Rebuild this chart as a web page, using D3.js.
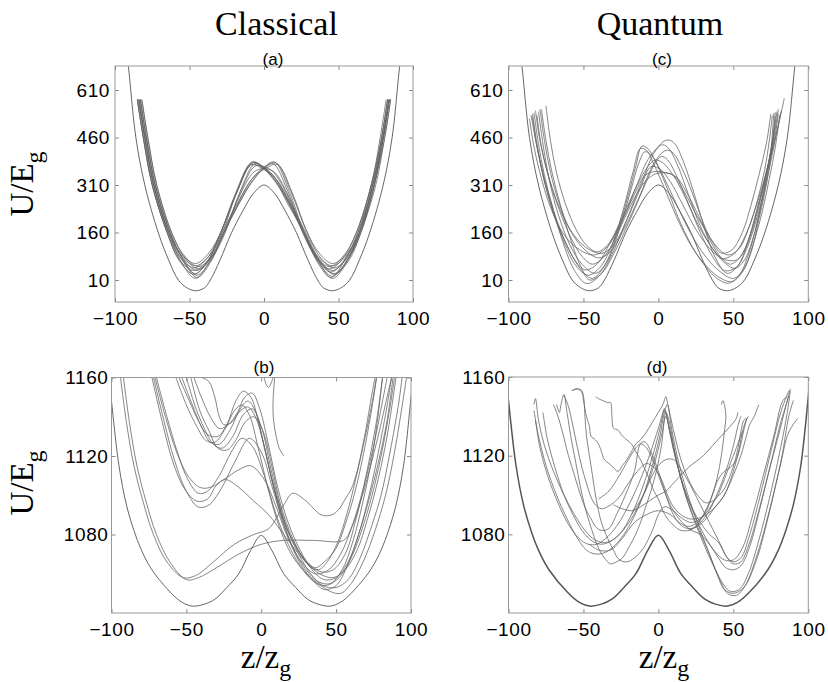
<!DOCTYPE html>
<html><head><meta charset="utf-8">
<script src="https://cdn.jsdelivr.net/npm/d3@7"></script>
<style>body{margin:0;background:#fff}</style>
</head><body>
<svg id="chart" width="828" height="682"></svg>
<script>
const zTicks=[-100,-50,0,50,100];
const uTicksLow=[10,160,310,460,610];
const uTicksHigh=[1080,1120,1160];
const zDomain=[-100,100];
const uDomainLow=[-59.5,685.8];
const uDomainHigh=[1040,1160];
const columnTitles=["Classical","Quantum"];
const panelLabels=["(a)","(b)","(c)","(d)"];

const baseLow=[[-93,760],[-91,684],[-86,460],[-80,310],[-71,160],[-64,73],[-57.5,10],[-52,-14],[-46,-24],[-40,-15],[-36,10],[-29.5,73],[-21.7,160],[-13.9,231],[-7,284],[0,310],[7,284],[13.9,231],[21.7,160],[29.5,73],[36,10],[40,-15],[46,-24],[52,-14],[57.5,10],[64,73],[71,160],[80,310],[86,460],[91,684],[93,760]];

const curvesA=[
[[-84,580],[-80,460],[-74,310],[-64,160],[-56,90],[-46,55],[-37,85],[-28,160],[-18,290],[-8,383],[0,365],[8,320],[16,250],[27,160],[36,70],[46,22],[56,75],[64,160],[73,310],[80,460],[84,580]],
[[-83,580],[-79,460],[-73,310],[-63,160],[-55,80],[-45,25],[-36,70],[-27,160],[-17,250],[-8,320],[0,365],[7,383],[17,290],[27,160],[36,85],[46,55],[56,90],[64,160],[74,310],[80,460],[84,580]],
[[-85,580],[-81,460],[-75,310],[-65,160],[-57,75],[-47,40],[-38,70],[-29,160],[-19,280],[-9,372],[-2,368],[6,340],[15,270],[26,160],[35,80],[45,35],[55,80],[63,160],[72,310],[79,460],[83,580]],
[[-82,580],[-78,460],[-72,310],[-62,160],[-54,85],[-44,45],[-35,80],[-26,160],[-16,290],[-6,378],[0,366],[8,330],[17,260],[28,160],[37,75],[47,30],[57,80],[65,160],[74,310],[81,460],[85,580]],
[[-84,580],[-80,460],[-74,310],[-64,160],[-56,80],[-46,30],[-37,75],[-28,160],[-17,260],[-8,330],[0,366],[6,378],[16,290],[26,160],[35,80],[44,45],[54,85],[62,160],[72,310],[78,460],[82,580]],
[[-83,580],[-79,460],[-73,310],[-63,160],[-55,80],[-45,18],[-36,65],[-27,160],[-17,270],[-7,350],[0,362],[7,350],[17,270],[27,160],[36,65],[45,18],[55,80],[63,160],[73,310],[79,460],[83,580]],
[[-84,580],[-80,460],[-74,310],[-64,160],[-56,95],[-46,62],[-37,95],[-28,170],[-18,290],[-8,380],[0,362],[9,315],[18,240],[28,150],[37,65],[46,15],[56,70],[64,160],[73,310],[80,460],[84,580]],
[[-84,580],[-80,460],[-74,310],[-64,160],[-56,70],[-46,15],[-37,65],[-28,150],[-18,240],[-9,315],[0,362],[8,380],[18,290],[28,170],[37,95],[46,62],[56,95],[64,160],[74,310],[80,460],[84,580]],
[[-85,580],[-81,460],[-75,310],[-65,160],[-57,85],[-47,48],[-38,80],[-29,160],[-19,285],[-9,375],[-1,362],[7,335],[16,265],[27,160],[36,78],[46,40],[56,82],[64,160],[73,310],[80,460],[84,580]],
[[-83,580],[-79,460],[-73,310],[-63,160],[-55,82],[-45,40],[-36,78],[-27,160],[-16,265],[-7,335],[1,362],[9,375],[19,285],[29,160],[38,80],[47,48],[57,85],[65,160],[74,310],[80,460],[84,580]],
[[-82,580],[-78,460],[-72,310],[-62,160],[-54,90],[-44,52],[-35,85],[-26,165],[-16,285],[-6,370],[0,368],[6,352],[15,285],[26,165],[35,85],[44,52],[54,90],[62,160],[72,310],[79,460],[83,580]],
[[-85,580],[-81,460],[-75,310],[-65,160],[-57,72],[-47,28],[-38,68],[-29,160],[-18,290],[-7,382],[0,360],[8,318],[17,250],[27,160],[37,72],[47,28],[57,72],[65,160],[75,310],[81,460],[85,580]]
];

const curvesC=[
[[-85,531],[-81,430],[-76,320],[-69,210],[-60,110],[-52,45],[-44,15],[-36,55],[-28,150],[-20,280],[-15,370],[-11,433],[-7,425],[-2,385],[5,310],[13,210],[22,120],[31,55],[40,12],[47,0],[54,25],[60,90],[66,190],[71,300],[75,420],[77,537]],
[[-83,539],[-80,440],[-76,340],[-70,230],[-63,120],[-56,40],[-48,-1],[-40,20],[-31,90],[-22,190],[-12,310],[-3,410],[3,446],[7,452],[11,440],[17,380],[24,280],[31,170],[38,80],[46,31],[53,55],[59,120],[65,220],[71,330],[76,440],[79,542]],
[[-80,542],[-77,440],[-73,330],[-67,220],[-59,120],[-51,60],[-42,31],[-34,70],[-26,170],[-18,300],[-13,380],[-9,415],[-4,400],[2,350],[10,270],[19,180],[29,100],[39,45],[50,15],[57,45],[63,120],[69,220],[74,330],[78,430],[81,531]],
[[-75,560],[-72,450],[-68,350],[-62,250],[-55,170],[-48,120],[-41,99],[-34,120],[-25,190],[-16,290],[-7,390],[0,430],[3,437],[7,425],[13,370],[20,280],[28,180],[36,110],[43,78],[51,95],[58,150],[65,240],[72,350],[78,460],[82,540],[84,584]],
[[-84,525],[-81,430],[-76,330],[-70,230],[-63,140],[-56,75],[-49,42],[-41,60],[-32,130],[-22,230],[-12,330],[-5,380],[-2,389],[3,380],[10,340],[18,270],[27,180],[36,110],[44,65],[51,47],[57,70],[63,140],[68,240],[72,340],[76,450],[78,540]],
[[-82,545],[-79,450],[-74,350],[-67,250],[-59,170],[-49,115],[-38,94],[-30,120],[-21,200],[-12,300],[-5,368],[1,360],[8,320],[16,250],[25,170],[34,110],[42,78],[45,73],[52,73],[58,110],[64,190],[69,280],[74,380],[78,470],[80,535]],
[[-86,520],[-83,430],[-78,330],[-72,240],[-64,160],[-54,110],[-43,89],[-34,115],[-25,190],[-16,280],[-9,340],[-3,352],[4,350],[10,340],[17,290],[26,210],[35,140],[42,100],[47,89],[54,110],[60,170],[66,260],[71,360],[74,450],[76,530]],
[[-78,548],[-75,450],[-71,350],[-65,240],[-58,130],[-52,55],[-46,10],[-38,30],[-29,100],[-19,200],[-9,310],[-2,380],[2,400],[6,390],[12,340],[20,250],[28,160],[36,85],[44,40],[52,50],[59,110],[66,210],[72,320],[77,430],[80,500],[82,545]],
[[-81,530],[-78,430],[-73,330],[-66,230],[-58,140],[-51,85],[-44,60],[-36,85],[-27,160],[-18,250],[-9,320],[-2,345],[5,348],[12,335],[19,285],[27,210],[35,130],[42,80],[48,60],[55,85],[61,150],[67,250],[72,350],[77,460],[80,550]],
[[-84,535],[-81,440],[-77,340],[-71,235],[-63,130],[-55,55],[-47,25],[-39,50],[-31,120],[-23,240],[-17,350],[-12,425],[-8,420],[-3,375],[4,300],[12,210],[21,125],[30,65],[40,20],[49,5],[56,35],[62,100],[67,200],[72,310],[76,430],[78,528]],
[[-79,550],[-76,450],[-72,350],[-66,250],[-58,160],[-49,105],[-40,80],[-32,100],[-23,170],[-13,270],[-4,370],[2,410],[6,420],[10,410],[16,360],[23,280],[30,190],[36,130],[42,95],[49,105],[56,160],[62,250],[67,340],[72,440],[75,535]]
];

const baseHigh=[[-101,1156],[-100,1148],[-95,1115],[-90,1095],[-85,1082],[-80,1072],[-73,1062],[-60,1050],[-53,1045.5],[-46,1043.5],[-38,1044.5],[-31,1047],[-23,1053],[-15,1060],[-7,1072],[0,1079.5],[7,1072],[15,1060],[23,1053],[31,1047],[38,1044.5],[46,1043.5],[53,1045.5],[60,1050],[73,1062],[80,1072],[85,1082],[90,1095],[95,1115],[100,1150],[101,1158]];

const curvesB=[
[[-94,1160],[-90,1137],[-85,1115],[-79,1097],[-72,1080],[-63,1066],[-52,1058],[-44,1059],[-32,1066],[-18,1075],[-5,1080],[5,1083],[15,1095],[21,1101],[30,1097],[40,1090],[47,1090],[52,1093],[56,1098],[60,1103],[64,1112],[68,1125],[73,1143],[77,1160]],
[[-92,1160],[-88,1137],[-83,1115],[-77,1097],[-70,1080],[-61,1066],[-50,1057],[-42,1058],[-30,1063],[-15,1070],[0,1075],[15,1077],[35,1077],[55,1077],[60,1083],[66,1096],[72,1112],[78,1130],[84,1150],[87,1160]],
[[-70,1160],[-63,1140],[-56,1122],[-49,1108],[-42,1101],[-36,1102],[-28,1110],[-20,1122],[-13,1129],[-6,1125],[2,1110],[10,1090],[18,1075],[26,1064],[35,1056],[43,1054],[52,1058],[60,1068],[67,1082],[74,1100],[80,1120],[86,1145],[89,1160]],
[[-72,1160],[-65,1138],[-58,1118],[-50,1102],[-42,1094],[-35,1095],[-27,1103],[-17,1118],[-8,1129],[0,1122],[7,1105],[15,1085],[24,1068],[33,1058],[42,1052],[50,1054],[58,1065],[65,1080],[72,1098],[78,1116],[84,1138],[88,1160]],
[[-73,1160],[-66,1137],[-59,1117],[-51,1103],[-43,1097],[-36,1098],[-30,1105],[-24,1108],[-15,1104],[-5,1097],[5,1090],[15,1080],[24,1071],[30,1066],[36,1063],[42,1066],[50,1073],[56,1085],[62,1100],[68,1120],[74,1145],[77,1160]],
[[-71,1160],[-64,1140],[-57,1123],[-49,1110],[-41,1104],[-34,1104],[-25,1108],[-15,1113],[-7,1115],[2,1108],[10,1094],[18,1078],[27,1066],[36,1060],[45,1062],[53,1070],[61,1085],[68,1103],[75,1125],[81,1148],[84,1160]],
[[-55,1160],[-48,1148],[-42,1138],[-36,1131],[-29,1130],[-23,1136],[-17,1148],[-12,1153],[-7,1150],[-2,1138],[4,1118],[10,1100],[17,1083],[25,1070],[33,1060],[41,1054],[50,1053],[58,1057],[66,1068],[74,1085],[80,1100],[86,1122],[92,1148],[94,1160]],
[[-53,1160],[-46,1146],[-40,1135],[-34,1127],[-28,1126],[-21,1133],[-14,1144],[-9,1148],[-4,1143],[1,1128],[7,1108],[14,1088],[22,1072],[30,1062],[38,1056],[46,1055],[54,1062],[61,1076],[68,1097],[75,1124],[81,1160]],
[[-50,1160],[-44,1145],[-38,1134],[-32,1126],[-26,1124],[-19,1130],[-12,1141],[-6,1144],[0,1135],[6,1115],[12,1096],[19,1080],[26,1070],[32,1064],[38,1062],[44,1066],[51,1076],[57,1090],[63,1108],[69,1130],[74,1152],[76,1160]],
[[-57,1160],[-50,1146],[-43,1135],[-37,1128],[-31,1127],[-24,1134],[-18,1143],[-13,1146],[-8,1141],[-2,1124],[5,1102],[12,1084],[20,1070],[29,1061],[38,1055],[46,1051],[53,1050],[60,1055],[68,1066],[76,1082],[83,1100],[89,1122],[95,1150],[97,1160]],
[[-47,1160],[-41,1143],[-35,1133],[-29,1124],[-23,1123],[-17,1128],[-11,1137],[-5,1140],[1,1133],[7,1115],[13,1095],[21,1078],[30,1066],[39,1060],[48,1058],[56,1062],[64,1072],[71,1088],[78,1108],[84,1130],[90,1160]],
[[-40,1160],[-35,1158],[-31,1150],[-28,1140],[-25,1136],[-20,1137],[-14,1143],[-9,1145],[-4,1140],[2,1125],[8,1105],[15,1087],[23,1074],[32,1065],[40,1061],[48,1062],[56,1070],[63,1087],[70,1110],[77,1138],[81,1160]],
[[-45,1160],[-40,1150],[-34,1140],[-28,1134],[-22,1136],[-16,1142],[-11,1150],[-6,1152],[-1,1144],[5,1125],[11,1104],[18,1086],[26,1072],[34,1062],[42,1057],[50,1058],[58,1066],[65,1080],[72,1100],[79,1125],[85,1150],[87,1160]],
[[2,1160],[3.5,1156],[5,1155],[6.5,1157],[8,1160]],
[[9,1160],[8,1150],[8,1140],[10,1130],[12,1124],[15,1120]]
];

const curvesD=[
[[-83,1146],[-82,1149],[-80,1138],[-76,1125],[-70,1112],[-63,1100],[-56,1090],[-49,1082],[-42,1077],[-34,1076],[-26,1080],[-18,1090],[-10,1105],[-3,1122],[2,1137],[4,1144],[7,1135],[12,1118],[18,1100],[25,1085],[32,1072],[38,1062],[43,1055],[48,1051],[54,1052],[60,1060],[67,1077],[74,1098],[81,1122],[86,1142],[88,1153]],
[[-83,1143],[-80,1130],[-75,1115],[-68,1100],[-61,1088],[-54,1078],[-48,1072],[-42,1070],[-35,1071],[-27,1076],[-19,1085],[-11,1098],[-4,1115],[1,1130],[4,1142],[6,1146],[9,1133],[14,1115],[21,1097],[28,1082],[35,1068],[41,1057],[46,1050],[52,1049],[58,1054],[66,1070],[74,1092],[82,1118],[87,1140],[90,1148]],
[[-77,1142],[-74,1128],[-69,1114],[-63,1100],[-57,1090],[-51,1082],[-45,1077],[-39,1075],[-33,1076],[-26,1080],[-18,1088],[-10,1100],[-3,1115],[2,1130],[5,1140],[8,1130],[13,1114],[19,1098],[26,1084],[33,1072],[39,1060],[44,1052],[50,1050],[57,1053],[65,1066],[73,1088],[81,1114],[87,1132],[93,1139]],
[[-82,1138],[-79,1124],[-74,1110],[-67,1096],[-60,1085],[-53,1078],[-47,1075],[-41,1075],[-35,1078],[-28,1084],[-21,1093],[-13,1106],[-6,1120],[0,1134],[4,1143],[7,1135],[11,1120],[17,1104],[24,1090],[31,1079],[38,1071],[44,1067],[50,1067],[56,1073],[63,1090],[70,1110],[77,1130],[83,1148],[86,1150]],
[[-68,1146],[-66,1142],[-65,1146],[-63,1151],[-61,1142],[-58,1128],[-55,1116],[-52,1104],[-49,1094],[-46,1086],[-43,1079],[-40,1073],[-36,1068],[-32,1065],[-28,1066],[-24,1068],[-20,1073],[-14,1082],[-8,1095],[-2,1110],[2,1125],[5,1142],[7,1138],[11,1122],[16,1106],[22,1094],[28,1086],[34,1080],[40,1076],[46,1068],[50,1066],[55,1068],[61,1080],[68,1100],[75,1122],[82,1143],[87,1153]],
[[-58,1153],[-55,1154],[-52,1153],[-50,1150],[-49,1140],[-48,1130],[-46,1120],[-44,1110],[-42,1100],[-40,1092],[-38,1086],[-35,1080],[-30,1072],[-26,1067],[-21,1066],[-16,1068],[-10,1073],[-4,1082],[0,1090],[4,1094],[10,1092],[16,1088],[22,1086],[28,1088],[33,1092],[38,1098],[43,1102],[48,1110],[52,1120],[55,1132],[57,1138],[59,1139]],
[[-63,1151],[-60,1145],[-57,1135],[-54,1124],[-51,1114],[-48,1106],[-45,1099],[-42,1095],[-38,1093],[-34,1094],[-30,1096],[-25,1100],[-20,1106],[-14,1112],[-8,1116],[-3,1114],[2,1108],[6,1100],[10,1094],[15,1090],[20,1088],[26,1088],[32,1090],[38,1094],[44,1100],[50,1112],[54,1124],[56,1132],[58,1137],[60,1140]],
[[-70,1146],[-67,1140],[-64,1132],[-60,1120],[-56,1110],[-52,1100],[-48,1092],[-45,1088],[-42,1084],[-38,1082],[-33,1083],[-28,1090],[-22,1100],[-16,1112],[-12,1126],[-9,1127],[-5,1122],[0,1112],[5,1100],[10,1090],[16,1084],[22,1083],[28,1086],[34,1092],[40,1102],[45,1112],[50,1125],[53,1135],[55,1140]],
[[-42,1150],[-40,1149],[-37,1148],[-34,1147],[-32,1147],[-31,1140],[-30,1134],[-27,1133],[-24,1130],[-21,1128],[-18,1126],[-15,1122],[-12,1118],[-9,1113],[-6,1108],[-3,1102],[0,1098],[3,1092],[7,1087],[11,1084],[15,1082],[20,1082],[25,1084],[30,1090],[35,1098],[39,1108],[42,1120],[44,1132],[45,1140],[44,1146],[43,1148],[42,1146]],
[[-57,1153],[-54,1154],[-51,1153],[-50,1148],[-48,1140],[-46,1135],[-45,1130],[-42,1128],[-40,1126],[-38,1122],[-36,1118],[-33,1116],[-30,1114],[-27,1112],[-24,1115],[-21,1118],[-18,1122],[-15,1126],[-12,1128],[-8,1132],[-4,1137],[0,1142],[3,1146],[5,1150],[6,1147],[8,1140],[11,1130],[15,1118],[20,1108],[26,1100],[32,1096],[38,1098],[42,1104],[46,1112],[50,1120],[54,1128],[56,1132]],
[[-30,1095],[-24,1093],[-18,1092],[-12,1094],[-6,1097],[0,1100],[5,1102],[10,1106],[15,1110],[20,1114],[25,1117],[30,1120],[36,1125],[42,1130],[48,1135],[52,1139],[53,1142]],
[[-46,1075],[-40,1072],[-32,1072],[-24,1078],[-16,1086],[-8,1090],[0,1092],[8,1090],[14,1086],[20,1084],[26,1086],[32,1092],[36,1100],[40,1108],[44,1112],[48,1114],[52,1118],[55,1126],[57,1133],[59,1139]],
[[-18,1090],[-10,1100],[-4,1110],[0,1115],[5,1118],[10,1118],[16,1112],[22,1104],[28,1095],[34,1086],[40,1077],[46,1068],[50,1065],[55,1066],[60,1074],[67,1092],[73,1110],[80,1130],[85,1145],[88,1154]],
[[20,1082],[26,1084],[32,1088],[38,1094],[44,1100],[50,1110],[55,1120],[58,1128],[61,1136],[64,1140],[66,1144],[67,1146]],
[[-40,1098],[-33,1102],[-26,1110],[-20,1118],[-15,1124],[-12,1126],[-8,1124],[-4,1118],[0,1110],[5,1100],[10,1092],[16,1086],[22,1082],[28,1080],[34,1075],[40,1068],[45,1063],[50,1062],[55,1064],[61,1074],[68,1094],[75,1116],[82,1138],[87,1150]]
];

const panels=[
 {label:panelLabels[0],curves:curvesA,base:baseLow,ticks:uTicksLow,dom:uDomainLow,x0:115,x1:413,y0:66,y1:302,lx:273,ly:65,pad:5},
 {label:panelLabels[1],curves:curvesB,base:baseHigh,ticks:uTicksHigh,dom:uDomainHigh,x0:111.5,x1:411,y0:377.5,y1:613,lx:264,ly:373,pad:3},
 {label:panelLabels[2],curves:curvesC,base:baseLow,ticks:uTicksLow,dom:uDomainLow,x0:508.5,x1:808.3,y0:66,y1:302,lx:662,ly:65,pad:5},
 {label:panelLabels[3],curves:curvesD,base:baseHigh,ticks:uTicksHigh,dom:uDomainHigh,x0:508.5,x1:808.3,y0:377,y1:613,lx:657,ly:373,pad:3}
];

const svg=d3.select("#chart");
const tickFont="'Liberation Sans', Arial, sans-serif";
const serif="'Liberation Serif','Times New Roman',serif";
const fmt=d3.format("d");

panels.forEach((p,i)=>{
  const x=d3.scaleLinear().domain(zDomain).range([p.x0,p.x1]);
  const y=d3.scaleLinear().domain(p.dom).range([p.y1,p.y0]);
  const g=svg.append("g");
  const cid="clip"+i;
  svg.append("clipPath").attr("id",cid).append("rect")
    .attr("x",p.x0).attr("y",p.y0).attr("width",p.x1-p.x0).attr("height",p.y1-p.y0);
  const line=d3.line().x(d=>x(d[0])).y(d=>y(d[1])).curve(d3.curveCatmullRom.alpha(0.5));
  const cg=g.append("g").attr("clip-path",`url(#${cid})`);
  cg.append("path").datum(p.base).attr("d",line).attr("fill","none")
    .attr("stroke","#555").attr("stroke-width",i===3?1.5:0.9);
  cg.selectAll("path.c").data(p.curves).join("path").attr("class","c")
    .attr("d",line).attr("fill","none").attr("stroke","#666").attr("stroke-width",0.8);

  const styleAxis=a=>{a.select(".domain").remove();a.selectAll(".tick line").attr("stroke","#888");
    a.selectAll("text").attr("fill","#000").style("font-family",tickFont).style("font-size","19px").attr("letter-spacing","0.6px");};
  g.append("g").attr("transform",`translate(0,${p.y1})`)
    .call(d3.axisBottom(x).tickValues(zTicks).tickSize(-4).tickPadding(9.5).tickFormat(fmt)).call(styleAxis);
  g.append("g").attr("transform",`translate(0,${p.y0})`)
    .call(d3.axisTop(x).tickValues(zTicks).tickSize(-4).tickFormat("")).call(styleAxis);
  g.append("g").attr("transform",`translate(${p.x0},0)`)
    .call(d3.axisLeft(y).tickValues(p.ticks).tickSize(-4).tickPadding(p.pad).tickFormat(fmt)).call(styleAxis);
  g.append("g").attr("transform",`translate(${p.x1},0)`)
    .call(d3.axisRight(y).tickValues(p.ticks).tickSize(-4).tickFormat("")).call(styleAxis);
  g.append("rect").attr("x",p.x0).attr("y",p.y0).attr("width",p.x1-p.x0).attr("height",p.y1-p.y0)
    .attr("fill","none").attr("stroke","#999").attr("stroke-width",1);
  g.append("text").attr("x",p.lx).attr("y",p.ly).attr("text-anchor","middle")
    .style("font-family",tickFont).style("font-size","17px").text(p.label);
});

[[276.5,columnTitles[0]],[660,columnTitles[1]]].forEach(([cx,t])=>{
  svg.append("text").attr("x",cx).attr("y",35).attr("text-anchor","middle")
    .style("font-family",serif).style("font-size","34px").text(t);
});
[184,483].forEach(cy=>{
  const t=svg.append("text").attr("transform",`translate(33,${cy}) rotate(-90)`).attr("text-anchor","middle")
    .style("font-family",serif).style("font-size","33px");
  t.append("tspan").text("U/E");
  t.append("tspan").attr("dy",9).style("font-size","24px").text("g");
});
[266,664].forEach(cx=>{
  const t=svg.append("text").attr("x",cx).attr("y",668).attr("text-anchor","middle")
    .style("font-family",serif).style("font-size","33px");
  t.append("tspan").text("z/z");
  t.append("tspan").attr("dy",8).style("font-size","24px").text("g");
});
</script>
</body></html>
